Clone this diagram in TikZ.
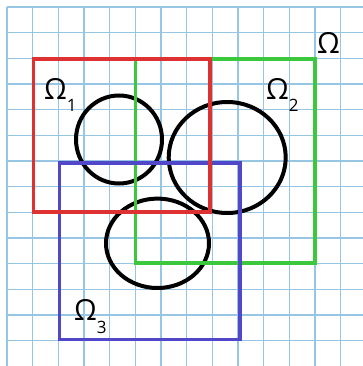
\documentclass[tikz,border=0pt]{standalone}
\usepackage{fontspec}
\setmainfont{Open Sans}
\definecolor{gridblue}{RGB}{150,198,228}
\definecolor{rred}{RGB}{222,50,50}
\definecolor{ggreen}{RGB}{60,200,60}
\definecolor{bblue}{RGB}{80,72,200}
\tikzset{
  gridline/.style={draw=gridblue,line width=1.4pt},
  region/.style={line width=3.6pt},
  blob/.style={draw=black,line width=4pt},
  omlabel/.style={anchor=base west,inner sep=0pt,font=\fontsize{29}{29}\selectfont}
}
\newcommand{\omsub}[1]{\raisebox{-12.5pt}{\fontsize{17}{17}\selectfont #1}}
\begin{document}
\begin{tikzpicture}[x=1pt,y=-1pt]
\useasboundingbox (0,0) rectangle (363,366);
\fill[white] (0,0) rectangle (363,366);
% grid
\foreach \k in {0,...,13}{
  \draw[gridline] ({7+25.66*\k},7) -- ({7+25.66*\k},366);
  \draw[gridline] (7,{7+25.66*\k}) -- (363,{7+25.66*\k});
}
% circles
\draw[blob] (119,139.5) ellipse [x radius=43, y radius=44];
\draw[blob] (227.2,157.5) ellipse [x radius=58.5, y radius=55.5];
\draw[blob] (157.5,243.3) ellipse [x radius=51.5, y radius=44.7];
% regions
\draw[region,draw=ggreen] (135.5,59.3) rectangle (315,262.7);
\draw[region,draw=bblue] (59.3,162.7) rectangle (240,339.3);
\draw[region,draw=rred] (33.3,59.3) rectangle (210,211.7);
% labels
\node[omlabel] (om) at (317,53.5) {Ω};
\node[omlabel] (om1) at (44,99.5) {Ω\omsub{1}};
\node[omlabel] (om2) at (266,99.5) {Ω\omsub{2}};
\node[omlabel] (om3) at (74,320.5) {Ω\omsub{3}};
\end{tikzpicture}
\end{document}
